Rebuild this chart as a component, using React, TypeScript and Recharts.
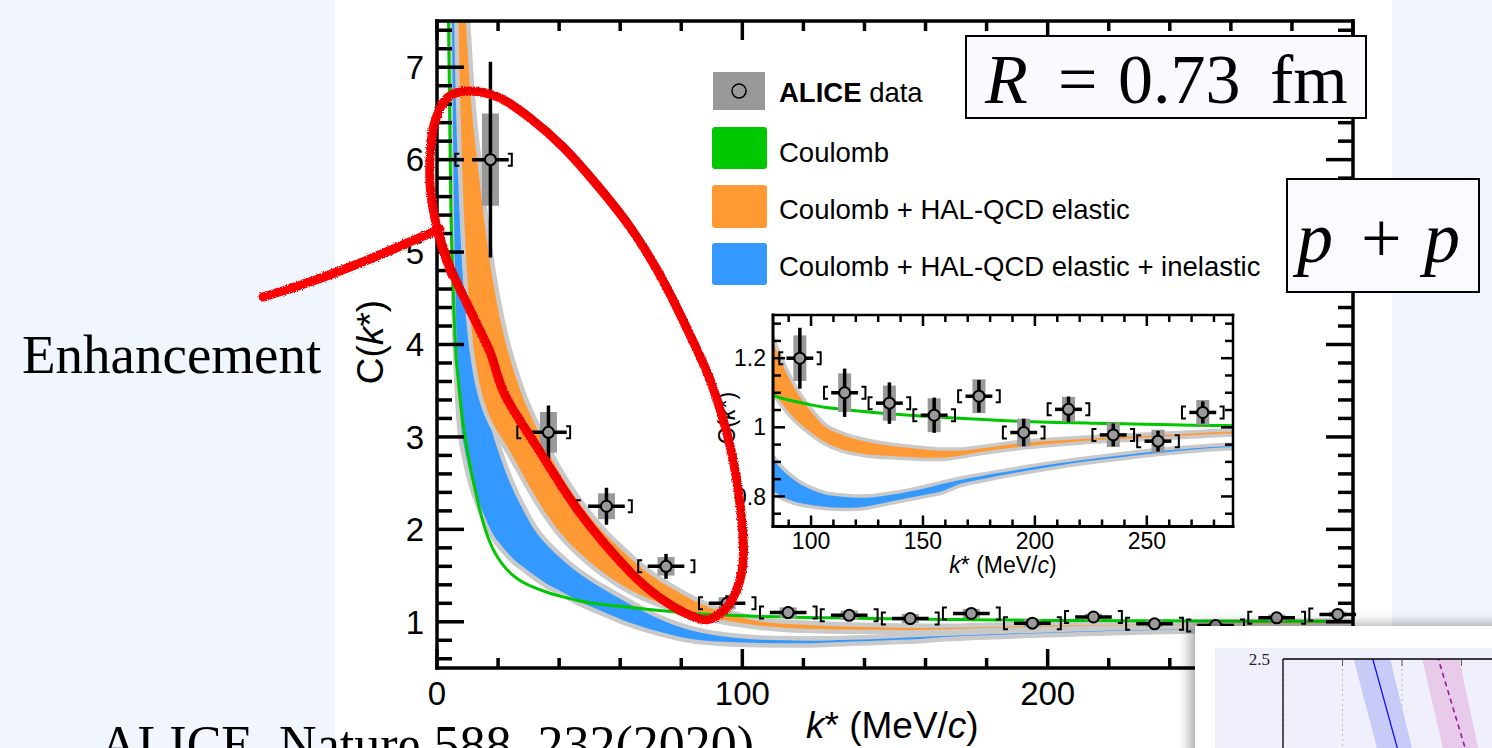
import React from "react";
import {
  ComposedChart,
  Area,
  Line,
  Scatter,
  XAxis,
  YAxis,
  ErrorBar,
  CartesianGrid,
} from "recharts";

const SANS = '"Liberation Sans", Arial, Helvetica, sans-serif';
const SERIF = '"Liberation Serif", "Times New Roman", Times, serif';

const GREEN = "#00c800";
const ORANGE = "#ff9933";
const BLUE = "#3399ff";
const HALO = "#c9c9c9";
const SYS = "#999999";

// model curves, sampled in k* (MeV/c)
const kGrid = [
  3, 3.5, 4, 4.5, 5, 5.5, 6, 7, 8, 9, 10, 11, 12, 13, 14, 16, 18, 20, 22, 25, 28, 32, 36, 40, 45,
  50, 55, 60, 66, 72, 78, 84, 92, 100, 106, 114, 121, 128, 136, 144, 151, 158, 166, 175, 185, 195,
  210, 225, 240, 255, 270, 285, 300,
];

const coulomb = [
  10, 8.3, 6.9, 5.6, 4.9, 4.4, 4.0, 3.6, 3.28, 3.04, 2.84, 2.66, 2.5, 2.35, 2.21, 1.98, 1.81, 1.69,
  1.6, 1.5, 1.43, 1.37, 1.32, 1.28, 1.24, 1.205, 1.185, 1.167, 1.146, 1.125, 1.107, 1.09, 1.076,
  1.065, 1.058, 1.052, 1.047, 1.043, 1.039, 1.035, 1.032, 1.029, 1.026, 1.023, 1.02, 1.017, 1.014,
  1.012, 1.01, 1.008, 1.006, 1.005, 1.004,
];

// Coulomb + HAL-QCD elastic
const elasticLow = [
  20, 19, 18, 16.5, 15, 13, 11, 7.7, 6.2, 5.3, 4.7, 4.28, 3.97, 3.74, 3.57, 3.33, 3.17, 3.05, 2.95,
  2.78, 2.6, 2.37, 2.16, 1.98, 1.8, 1.65, 1.52, 1.41, 1.3, 1.215, 1.15, 1.095, 1.03, 0.985, 0.958,
  0.936, 0.926, 0.92, 0.917, 0.914, 0.912, 0.912, 0.918, 0.928, 0.937, 0.945, 0.954, 0.962, 0.967,
  0.972, 0.977, 0.982, 0.985,
];
const elasticHigh = [
  25, 24, 23, 22, 20, 18, 16, 12.5, 9.8, 7.9, 7.2, 6.7, 6.33, 6.03, 5.75, 5.2, 4.75, 4.38, 4.08,
  3.73, 3.44, 3.14, 2.87, 2.62, 2.36, 2.14, 1.95, 1.79, 1.61, 1.46, 1.34, 1.23, 1.12, 1.045, 1.003,
  0.978, 0.964, 0.954, 0.946, 0.94, 0.936, 0.932, 0.932, 0.938, 0.947, 0.955, 0.962, 0.968, 0.973,
  0.977, 0.982, 0.987, 0.99,
];

// Coulomb + HAL-QCD elastic + inelastic
const inelasticLow = [
  12, 11, 10, 8.7, 7.2, 5.6, 4.6, 3.65, 3.1, 2.88, 2.72, 2.58, 2.46, 2.36, 2.27, 2.11, 1.97, 1.87,
  1.79, 1.68, 1.6, 1.5, 1.41, 1.34, 1.25, 1.17, 1.1, 1.03, 0.96, 0.9, 0.85, 0.812, 0.786, 0.775,
  0.77, 0.767, 0.768, 0.775, 0.786, 0.796, 0.805, 0.814, 0.835, 0.848, 0.861, 0.873, 0.889, 0.903,
  0.915, 0.926, 0.935, 0.942, 0.947,
];
const inelasticHigh = [
  15, 14, 12.5, 11, 9.8, 8.7, 7.5, 6.0, 5.1, 4.6, 4.25, 4.02, 3.85, 3.7, 3.57, 3.3, 3.06, 2.85,
  2.66, 2.42, 2.22, 1.99, 1.83, 1.7, 1.56, 1.445, 1.345, 1.25, 1.14, 1.04, 0.96, 0.9, 0.85, 0.82,
  0.806, 0.799, 0.796, 0.798, 0.805, 0.814, 0.824, 0.835, 0.847, 0.858, 0.869, 0.88, 0.895, 0.908,
  0.92, 0.931, 0.939, 0.945, 0.95,
];

// ALICE p-Omega data points
const kData = [17.5, 36.5, 55.5, 75, 95, 115, 135, 155, 175, 195, 215, 235, 255, 275, 295];
const cData = [6.0, 3.05, 2.25, 1.6, 1.2, 1.1, 1.07, 1.035, 1.09, 0.985, 1.052, 0.978, 0.96, 1.043, 1.08];
const statErr = [1.06, 0.29, 0.2, 0.135, 0.088, 0.07, 0.06, 0.051, 0.047, 0.04, 0.037, 0.033, 0.03, 0.032, 0.03];
const sysErr = [0.5, 0.22, 0.14, 0.1, 0.066, 0.056, 0.051, 0.049, 0.049, 0.04, 0.036, 0.035, 0.033, 0.036, 0.03];
const bracketLow = [6, 26.3, 45.8, 65.9, 85.8, 105.8, 125.7, 145.7, 165.7, 185.7, 205.7, 225.7, 245.7, 265.7, 285.7];
const bracketHigh = [24.5, 43.6, 63.8, 84.3, 104.3, 124.3, 144.3, 164.3, 184.3, 204.3, 224.3, 244.3, 264.3, 284.3, 304.3];
const kErr = 6;

// corner panel: two slanted bands with their central lines
const refX = [0.5, 1, 1.5, 2, 2.5, 3, 3.5, 4];
const blueLow = [4.07, 2.93, 1.79, 0.65, -0.49, -1.63, -2.77, -3.91];
const blueHigh = [5.63, 4.43, 3.22, 2.02, 0.81, -0.4, -1.6, -2.81];
const blueCenter = [4.69, 3.61, 2.52, 1.44, 0.35, -0.73, -1.82, -2.9];
const pinkLow = [7.17, 5.9, 4.63, 3.36, 2.09, 0.82, -0.45, -1.72];
const pinkHigh = [9.34, 7.95, 6.56, 5.17, 3.78, 2.39, 1.0, -0.39];
const pinkCenter = [6.67, 5.68, 4.7, 3.71, 2.72, 1.73, 0.74, -0.25];

const modelRows = kGrid.map((k, i) => ({
  k,
  coulomb: coulomb[i],
  elastic: [elasticLow[i], elasticHigh[i]],
  inelastic: [inelasticLow[i], inelasticHigh[i]],
}));

const pointRows = kData.map((k, i) => ({ k, c: cData[i], stat: statErr[i], sys: sysErr[i], kErr }));
const leftBrackets = bracketLow.map((k, i) => ({ k, c: cData[i] }));
const rightBrackets = bracketHigh.map((k, i) => ({ k, c: cData[i] }));

const refRows = refX.map((x, i) => ({
  x,
  blueBand: [blueLow[i], blueHigh[i]],
  blueLine: blueCenter[i],
  pinkBand: [pinkLow[i], pinkHigh[i]],
  pinkLine: pinkCenter[i],
}));

const marker = (p: any) => (
  <circle cx={p.cx} cy={p.cy} r={5.5} fill="#9a9a9a" stroke="#000" strokeWidth={2} />
);
const leftBracket = (p: any) => (
  <path d={`M${p.cx + 4},${p.cy - 6}H${p.cx}V${p.cy + 6}H${p.cx + 4}`} fill="none" stroke="#000" strokeWidth={2} />
);
const rightBracket = (p: any) => (
  <path d={`M${p.cx - 4},${p.cy - 6}H${p.cx}V${p.cy + 6}H${p.cx - 4}`} fill="none" stroke="#000" strokeWidth={2} />
);
const noShape = () => <g />;
// tick marks only, no label
const blankTick = () => <g />;

// bands, Coulomb curve and data points, shared by the main plot and the inset
function series(o: { halo: number; box: number; pts: any[]; lb: any[]; rb: any[] }) {
  const ids = { xAxisId: "x", yAxisId: "y" };
  return [
    <Area key="ih" {...ids} dataKey="inelastic" type="monotone" fill={HALO} fillOpacity={1} stroke={HALO} strokeWidth={o.halo} strokeLinejoin="round" isAnimationActive={false} />,
    <Area key="if" {...ids} dataKey="inelastic" type="monotone" fill={BLUE} fillOpacity={1} stroke="none" isAnimationActive={false} />,
    <Area key="eh" {...ids} dataKey="elastic" type="monotone" fill={HALO} fillOpacity={1} stroke={HALO} strokeWidth={o.halo} strokeLinejoin="round" isAnimationActive={false} />,
    <Area key="ef" {...ids} dataKey="elastic" type="monotone" fill={ORANGE} fillOpacity={1} stroke="none" isAnimationActive={false} />,
    <Line key="cl" {...ids} dataKey="coulomb" type="monotone" stroke={GREEN} strokeWidth={3} dot={false} activeDot={false} isAnimationActive={false} />,
    <Scatter key="lb" {...ids} data={o.lb} shape={leftBracket} isAnimationActive={false} />,
    <Scatter key="rb" {...ids} data={o.rb} shape={rightBracket} isAnimationActive={false} />,
    <Scatter key="eb" {...ids} data={o.pts} shape={noShape} isAnimationActive={false}>
      <ErrorBar dataKey="sys" direction="y" width={0} stroke={SYS} strokeWidth={o.box} isAnimationActive={false} />
      <ErrorBar dataKey="stat" direction="y" width={0} stroke="#000" strokeWidth={3.5} isAnimationActive={false} />
      <ErrorBar dataKey="kErr" direction="x" width={0} stroke="#000" strokeWidth={3.5} isAnimationActive={false} />
    </Scatter>,
    <Scatter key="pt" {...ids} data={o.pts} shape={marker} isAnimationActive={false} />,
  ];
}

// inward ticks on all four sides, plus the top and right frame lines
function frame(o: {
  xDomain: number[];
  yDomain: number[];
  xMajor: number[];
  xMinor: number[];
  yMajor: number[];
  yMinor: number[];
  xLen: number[];
  yLen: number[];
  width: number;
}) {
  const line = { stroke: "#000", strokeWidth: o.width, strokeLinecap: "square" };
  const tickStyle = { stroke: "#000", strokeWidth: o.width };
  const out: any[] = [];
  ["bottom", "top"].forEach((side) => {
    [o.xMajor, o.xMinor].forEach((ticks, j) => {
      const id = `fx-${side}-${j}`;
      out.push(
        <XAxis key={id} xAxisId={id} orientation={side as any} mirror height={1} type="number" dataKey="k" domain={o.xDomain} allowDataOverflow ticks={ticks} interval={0} tick={blankTick} tickSize={o.xLen[j]} stroke="#000" tickLine={tickStyle} axisLine={side === "top" && j === 0 ? line : false} />
      );
    });
  });
  ["left", "right"].forEach((side) => {
    [o.yMajor, o.yMinor].forEach((ticks, j) => {
      const id = `fy-${side}-${j}`;
      out.push(
        <YAxis key={id} yAxisId={id} orientation={side as any} mirror width={1} type="number" domain={o.yDomain} allowDataOverflow ticks={ticks} interval={0} tick={blankTick} tickSize={o.yLen[j]} stroke="#000" tickLine={tickStyle} axisLine={side === "right" && j === 0 ? line : false} />
      );
    });
  });
  return out;
}

const mainYMinor = [
  0.6, 0.8, 1.2, 1.4, 1.6, 1.8, 2.2, 2.4, 2.6, 2.8, 3.2, 3.4, 3.6, 3.8, 4.2, 4.4, 4.6, 4.8, 5.2, 5.4,
  5.6, 5.8, 6.2, 6.4, 6.6, 6.8, 7.2, 7.4,
];

function MainPlot() {
  const axisLine = { stroke: "#000", strokeWidth: 3.5, strokeLinecap: "square" as const };
  return (
    <ComposedChart width={1400} height={748} data={modelRows} margin={{ top: 21, right: 47, left: 377, bottom: 50 }}>
      {series({ halo: 9, box: 17, pts: pointRows, lb: leftBrackets, rb: rightBrackets })}
      <XAxis xAxisId="x" type="number" dataKey="k" domain={[0, 300]} allowDataOverflow ticks={[0, 100, 200, 300]} interval={0} height={30} tickLine={false} tickSize={0} tickMargin={14} tick={{ fill: "#000", fontSize: 33, fontFamily: SANS }} axisLine={axisLine} />
      <YAxis yAxisId="y" type="number" dataKey="c" domain={[0.5, 7.5]} allowDataOverflow ticks={[1, 2, 3, 4, 5, 6, 7]} interval={0} width={60} tickLine={false} tickSize={0} tickMargin={13} tick={{ fill: "#000", fontSize: 33, fontFamily: SANS }} axisLine={axisLine} />
      {frame({
        xDomain: [0, 300],
        yDomain: [0.5, 7.5],
        xMajor: [0, 100, 200, 300],
        xMinor: [20, 40, 60, 80, 120, 140, 160, 180, 220, 240, 260, 280],
        yMajor: [1, 2, 3, 4, 5, 6, 7],
        yMinor: mainYMinor,
        xLen: [19, 9],
        yLen: [27, 14],
        width: 3.5,
      })}
    </ComposedChart>
  );
}

function InsetPlot() {
  const keep = kData.map((k) => k > 83 && k < 288);
  const axisLine = { stroke: "#000", strokeWidth: 3, strokeLinecap: "square" as const };
  const font = { fill: "#000", fontSize: 23, fontFamily: SANS };
  return (
    <ComposedChart width={545} height={290} data={modelRows} margin={{ top: 15, right: 12, left: 38, bottom: 33.5 }}>
      {series({
        halo: 7,
        box: 13,
        pts: pointRows.filter((_, i) => keep[i]),
        lb: leftBrackets.filter((_, i) => keep[i]),
        rb: rightBrackets.filter((_, i) => keep[i]),
      })}
      <XAxis xAxisId="x" type="number" dataKey="k" domain={[83, 288.5]} allowDataOverflow ticks={[100, 150, 200, 250]} interval={0} height={30} tickLine={false} tickSize={0} tickMargin={6} tick={font} axisLine={axisLine} />
      <YAxis yAxisId="y" type="number" dataKey="c" domain={[0.713, 1.325]} allowDataOverflow ticks={[0.8, 1, 1.2]} interval={0} width={35} tickLine={false} tickSize={0} tickMargin={7} tick={font} axisLine={axisLine} />
      {frame({
        xDomain: [83, 288.5],
        yDomain: [0.713, 1.325],
        xMajor: [100, 150, 200, 250],
        xMinor: [90, 110, 120, 130, 140, 160, 170, 180, 190, 210, 220, 230, 240, 260, 270, 280],
        yMajor: [0.8, 1, 1.2],
        yMinor: [0.75, 0.85, 0.9, 0.95, 1.05, 1.1, 1.15, 1.25, 1.3],
        xLen: [11, 6],
        yLen: [12, 7],
        width: 2.5,
      })}
    </ComposedChart>
  );
}

function CornerPlot() {
  return (
    <ComposedChart width={300} height={140} data={refRows} margin={{ top: 11, right: 0, left: 8, bottom: 29 }}>
      <CartesianGrid xAxisId="rx" yAxisId="ry" horizontal={false} stroke="#bdbdbd" strokeDasharray="2 3" />
      <Area xAxisId="rx" yAxisId="ry" dataKey="blueBand" type="linear" fill="#c8caf8" fillOpacity={1} stroke="none" isAnimationActive={false} />
      <Area xAxisId="rx" yAxisId="ry" dataKey="pinkBand" type="linear" fill="#e8caea" fillOpacity={1} stroke="none" isAnimationActive={false} />
      <Line xAxisId="rx" yAxisId="ry" dataKey="blueLine" type="linear" stroke="#1010ff" strokeWidth={1.3} dot={false} activeDot={false} isAnimationActive={false} />
      <Line xAxisId="rx" yAxisId="ry" dataKey="pinkLine" type="linear" stroke="#9a1896" strokeWidth={1.6} strokeDasharray="5 4" dot={false} activeDot={false} isAnimationActive={false} />
      <XAxis xAxisId="rx" type="number" dataKey="x" domain={[0, 3.9]} allowDataOverflow orientation="top" mirror height={1} ticks={[1, 2, 3]} interval={0} tick={blankTick} tickSize={7} stroke="#000" tickLine={{ stroke: "#555" }} axisLine={{ stroke: "#000", strokeWidth: 1.3 }} />
      <YAxis yAxisId="ry" type="number" domain={[1.5, 2.5]} allowDataOverflow ticks={[2.5]} interval={0} width={60} tickLine={false} tickSize={0} tickMargin={13} tick={{ fill: "#222", fontSize: 17, fontFamily: SERIF }} axisLine={{ stroke: "#000", strokeWidth: 1.3 }} />
    </ComposedChart>
  );
}

// hand-drawn loop and pointer
const loopPts = [
  [437, 228], [450, 267], [470, 310], [490, 352], [505, 395], [537, 447], [580, 513], [630, 572],
  [663, 600], [697, 618], [715, 617], [733, 598], [743, 563], [741, 513], [731, 450], [712, 385],
  [690, 335], [660, 275], [630, 227], [597, 185], [563, 147], [530, 118], [500, 98], [470, 91],
  [447, 98], [434, 125], [430, 160], [431, 195], [440, 240], [452, 275],
];
const tailPts = [[263, 297], [310, 282], [360, 263], [405, 244], [440, 229]];

function smooth(pts: number[][]) {
  let d = `M${pts[0][0]},${pts[0][1]}`;
  for (let i = 0; i < pts.length - 1; i++) {
    const p0 = pts[i - 1] || pts[i];
    const p1 = pts[i];
    const p2 = pts[i + 1];
    const p3 = pts[i + 2] || p2;
    const c1x = p1[0] + (p2[0] - p0[0]) / 6;
    const c1y = p1[1] + (p2[1] - p0[1]) / 6;
    const c2x = p2[0] - (p3[0] - p1[0]) / 6;
    const c2y = p2[1] - (p3[1] - p1[1]) / 6;
    d += ` C${c1x},${c1y} ${c2x},${c2y} ${p2[0]},${p2[1]}`;
  }
  return d;
}

function Overlay() {
  const legendText = { fontFamily: SANS, fontSize: 27.5, fill: "#000" };
  return (
    <svg width={1492} height={748} style={{ position: "absolute", left: 0, top: 0, pointerEvents: "none" }}>
      <defs>
        {/* felt-pen texture for the annotation stroke */}
        <filter id="pen" x="-5%" y="-5%" width="110%" height="110%">
          <feTurbulence type="fractalNoise" baseFrequency="0.8" numOctaves={1} seed={3} result="n" />
          <feDisplacementMap in="SourceGraphic" in2="n" scale={3.5} />
        </filter>
      </defs>

      {/* axis titles */}
      <text x={806} y={738} fontFamily={SANS} fontSize={37}>
        <tspan fontStyle="italic">k</tspan>* (MeV/<tspan fontStyle="italic">c</tspan>)
      </text>
      <text transform="translate(383,342) rotate(-90)" textAnchor="middle" fontFamily={SANS} fontSize={37}>
        C(<tspan fontStyle="italic">k</tspan>*)
      </text>
      <text x={1003} y={573} textAnchor="middle" fontFamily={SANS} fontSize={23}>
        <tspan fontStyle="italic">k</tspan>* (MeV/<tspan fontStyle="italic">c</tspan>)
      </text>
      <text transform="translate(735,418) rotate(-90)" textAnchor="middle" fontFamily={SANS} fontSize={23}>
        C(<tspan fontStyle="italic">k</tspan>*)
      </text>

      {/* legend */}
      <rect x={713} y={72} width={52} height={38} fill={SYS} />
      <circle cx={739} cy={91} r={7} fill="none" stroke="#000" strokeWidth={1.5} />
      <text x={779} y={102} {...legendText}>
        <tspan fontWeight="bold">ALICE</tspan> data
      </text>
      <rect x={712} y={127} width={55} height={42} rx={3} fill={GREEN} />
      <text x={779} y={162} {...legendText}>Coulomb</text>
      <rect x={712} y={185} width={55} height={43} rx={3} fill={ORANGE} />
      <text x={779} y={219} {...legendText}>Coulomb + HAL-QCD elastic</text>
      <rect x={712} y={243} width={55} height={42} rx={3} fill={BLUE} />
      <text x={779} y={276} {...legendText}>Coulomb + HAL-QCD elastic + inelastic</text>

      {/* source size and system boxes */}
      <rect x={966} y={36} width={400} height={82} fill="#f9f9ff" stroke="#000" strokeWidth={2} />
      <text y={103} fontFamily={SERIF} fontSize={70} fill="#000">
        <tspan x={985} fontStyle="italic">R</tspan>
        <tspan x={1058}>=</tspan>
        <tspan x={1118}>0.73</tspan>
        <tspan x={1270}>fm</tspan>
      </text>
      <rect x={1287} y={179} width={192} height={113} fill="#fbfbff" stroke="#000" strokeWidth={2} />
      <text y={262} fontFamily={SERIF} fontSize={72} fill="#000">
        <tspan x={1297} fontStyle="italic">p</tspan>
        <tspan x={1361}>+</tspan>
        <tspan x={1424} fontStyle="italic">p</tspan>
      </text>

      {/* marker annotation */}
      <g fill="none" stroke="#ff0000" strokeLinecap="round" strokeLinejoin="round" filter="url(#pen)">
        <path d={smooth(loopPts)} strokeWidth={9} />
        <path d={smooth(tailPts)} strokeWidth={9} />
        <path d={smooth(loopPts)} strokeWidth={4} stroke="#e80000" transform="translate(1.5,-1.5)" />
      </g>

      <text x={22} y={373} fontFamily={SERIF} fontSize={55} fill="#000">Enhancement</text>
      <text x={100} y={762} fontFamily={SERIF} fontSize={52} fill="#000">ALICE, Nature 588, 232(2020)</text>
    </svg>
  );
}

export default function App() {
  return (
    <div style={{ position: "absolute", left: 0, top: 0, width: 1492, height: 748, overflow: "hidden", background: "#f1f5fd", fontFamily: SANS }}>
      <div style={{ position: "absolute", left: 335, top: 0, width: 1057, height: 748, background: "#fff" }} />
      <div style={{ position: "absolute", left: 0, top: 0 }}>
        <MainPlot />
      </div>
      <div style={{ position: "absolute", left: 700, top: 300 }}>
        <InsetPlot />
      </div>
      <div style={{ position: "absolute", left: 1195, top: 626, width: 320, height: 140, background: "#fff", boxShadow: "-5px -2px 12px rgba(0,0,0,0.35)" }}>
        <div style={{ position: "absolute", left: 20, top: 22, width: 300, height: 118, background: "#f0f0fc" }}>
          <CornerPlot />
        </div>
      </div>
      <Overlay />
    </div>
  );
}
